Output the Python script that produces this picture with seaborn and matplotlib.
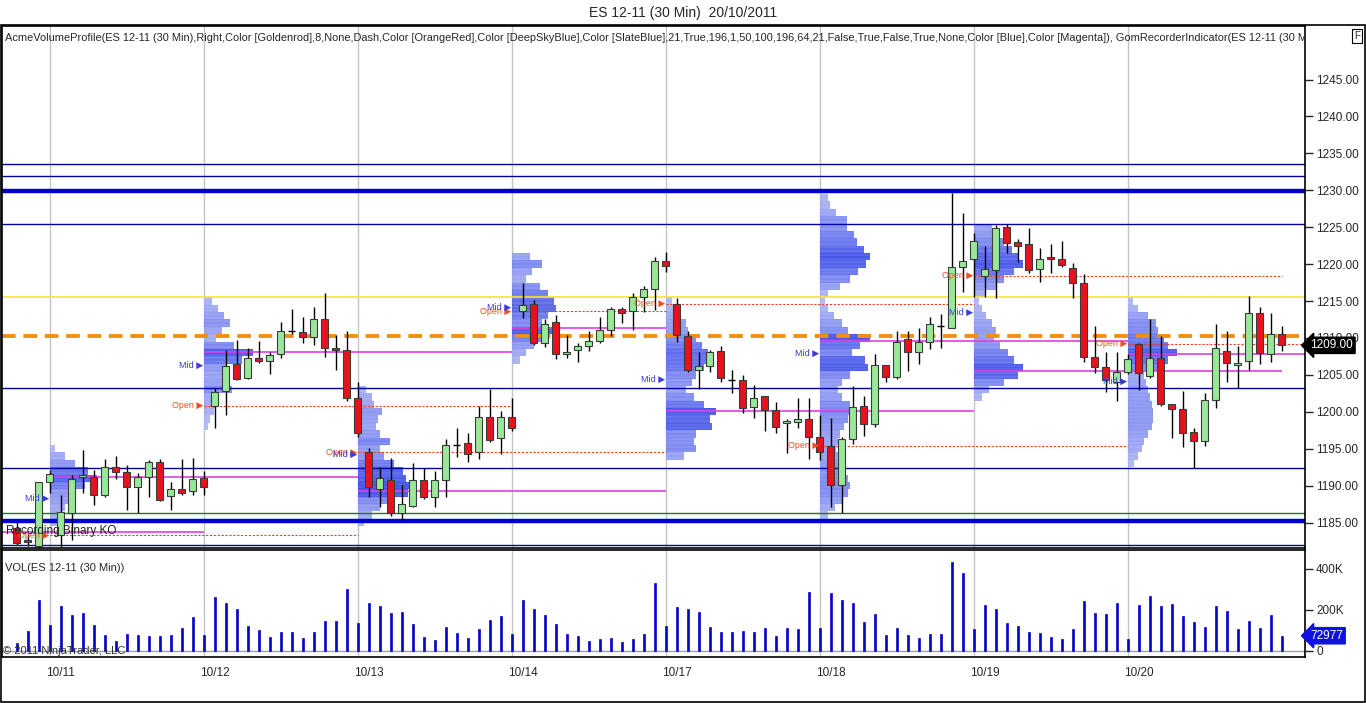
import numpy as np
import pandas as pd
import seaborn as sns
import matplotlib.pyplot as plt
from matplotlib.patches import Rectangle
from matplotlib.colors import LinearSegmentedColormap

sns.set_style("white")
plt.rcParams['font.family'] = ['Liberation Sans', 'DejaVu Sans']

# ---- 30 min bars, last 4 bars of 10/10 then 14 bars per session ----
opens = [1184.3, 1182.6, 1181.8, 1190.5,
         1183.3, 1186.3, 1191.2, 1191.2, 1188.7, 1192.5, 1191.8, 1189.8, 1191.2, 1193.2, 1188.6, 1189.5, 1189.3, 1191.0,
         1200.8, 1202.8, 1206.5, 1204.6, 1207.3, 1206.9, 1207.8, 1210.9, 1210.8, 1210.1, 1212.5, 1208.6, 1208.3, 1201.8,
         1194.5, 1189.5, 1190.8, 1186.3, 1187.2, 1190.8, 1188.5, 1190.8, 1195.5, 1195.8, 1194.5, 1199.3, 1196.5, 1199.3,
         1213.6, 1214.6, 1209.3, 1212.2, 1207.8, 1208.4, 1208.9, 1209.6, 1211.1, 1213.9, 1213.6, 1215.5, 1216.6, 1220.4,
         1214.6, 1210.3, 1205.7, 1206.2, 1208.2, 1204.3, 1204.3, 1200.6, 1202.1, 1200.3, 1198.5, 1198.6, 1199.0, 1196.6,
         1195.4, 1190.1, 1196.3, 1200.8, 1198.3, 1206.3, 1204.7, 1209.8, 1208.1, 1209.4, 1211.6, 1211.3, 1219.6, 1220.7,
         1218.4, 1219.2, 1225.0, 1223.0, 1222.7, 1219.4, 1221.0, 1220.7, 1219.5, 1217.4, 1207.4, 1206.1, 1204.0, 1205.4,
         1209.2, 1204.8, 1207.3, 1201.1, 1200.4, 1197.3, 1196.0, 1201.6, 1208.2, 1206.4, 1206.9, 1213.4, 1207.8, 1210.6]
highs = [1185.1, 1183.5, 1190.5, 1192.1,
         1188.7, 1191.4, 1194.8, 1192.1, 1193.6, 1194.0, 1192.8, 1191.7, 1193.5, 1193.6, 1190.5, 1193.6, 1193.7, 1192.0,
         1203.2, 1208.4, 1209.7, 1208.6, 1209.6, 1208.1, 1212.2, 1213.9, 1212.8, 1214.2, 1216.1, 1210.4, 1210.9, 1204.0,
         1195.1, 1192.5, 1193.7, 1190.1, 1193.1, 1192.4, 1192.0, 1196.3, 1197.8, 1197.1, 1200.8, 1203.1, 1200.1, 1201.9,
         1217.4, 1215.1, 1212.6, 1213.1, 1210.4, 1209.3, 1210.9, 1212.8, 1214.2, 1214.2, 1216.1, 1217.1, 1221.0, 1221.6,
         1215.4, 1210.9, 1208.1, 1208.4, 1208.9, 1205.6, 1205.0, 1203.6, 1202.1, 1201.3, 1199.0, 1201.9, 1201.9, 1199.6,
         1199.2, 1196.6, 1203.5, 1202.1, 1207.8, 1206.3, 1210.9, 1210.9, 1211.3, 1212.8, 1213.3, 1229.6, 1226.9, 1224.2,
         1222.5, 1225.3, 1225.4, 1223.4, 1224.9, 1222.2, 1222.7, 1223.1, 1220.1, 1218.6, 1211.6, 1208.1, 1208.1, 1207.8,
         1209.3, 1212.6, 1210.3, 1201.1, 1202.8, 1197.8, 1202.5, 1211.9, 1210.9, 1208.9, 1215.7, 1214.2, 1213.4, 1211.6]
lows = [1182.0, 1181.8, 1181.5, 1189.0,
        1181.7, 1182.6, 1189.0, 1187.4, 1188.5, 1190.9, 1186.7, 1186.3, 1188.5, 1187.9, 1186.7, 1188.7, 1188.7, 1188.7,
        1197.8, 1199.6, 1204.3, 1204.4, 1206.6, 1205.1, 1207.3, 1210.5, 1209.3, 1209.0, 1207.4, 1205.7, 1201.5, 1196.6,
        1188.5, 1187.1, 1185.9, 1185.3, 1187.1, 1188.2, 1187.1, 1188.5, 1193.9, 1193.2, 1193.6, 1195.9, 1194.3, 1197.4,
        1212.7, 1209.1, 1208.8, 1207.1, 1207.3, 1206.7, 1208.2, 1209.3, 1210.3, 1212.0, 1211.1, 1213.5, 1213.8, 1218.9,
        1209.4, 1205.4, 1203.1, 1205.4, 1204.0, 1202.5, 1199.8, 1199.2, 1197.4, 1197.1, 1194.4, 1197.8, 1193.6, 1193.5,
        1187.1, 1186.3, 1195.6, 1196.7, 1197.9, 1204.0, 1204.4, 1205.5, 1206.5, 1208.5, 1208.6, 1211.3, 1216.2, 1215.5,
        1215.5, 1215.4, 1221.5, 1220.3, 1218.8, 1217.6, 1218.8, 1219.6, 1215.4, 1206.7, 1205.3, 1202.7, 1201.5, 1205.1,
        1203.0, 1204.6, 1200.8, 1196.4, 1195.2, 1192.4, 1195.4, 1200.5, 1204.1, 1203.2, 1205.7, 1206.5, 1206.7, 1208.2]
closes = [1182.2, 1182.4, 1190.5, 1191.6,
          1186.4, 1190.9, 1191.4, 1188.7, 1192.5, 1191.8, 1189.8, 1191.2, 1193.2, 1188.0, 1189.5, 1189.0, 1190.9, 1189.8,
          1202.7, 1206.2, 1204.4, 1207.3, 1206.9, 1207.7, 1210.9, 1210.9, 1210.1, 1212.5, 1208.6, 1208.3, 1201.8, 1197.1,
          1189.8, 1191.0, 1186.3, 1187.5, 1190.8, 1188.5, 1190.8, 1195.5, 1195.5, 1194.3, 1199.3, 1196.2, 1199.3, 1197.8,
          1214.5, 1209.3, 1211.9, 1207.8, 1208.1, 1208.9, 1209.6, 1211.1, 1213.9, 1213.4, 1215.5, 1216.6, 1220.4, 1219.7,
          1210.4, 1205.7, 1206.2, 1208.1, 1204.6, 1204.3, 1200.5, 1201.8, 1200.3, 1197.9, 1198.8, 1199.0, 1196.6, 1194.6,
          1190.1, 1196.3, 1200.6, 1198.3, 1206.3, 1204.7, 1209.4, 1208.1, 1209.4, 1211.9, 1211.6, 1219.6, 1220.4, 1223.1,
          1219.4, 1224.9, 1222.9, 1222.4, 1219.2, 1220.7, 1220.7, 1219.9, 1217.4, 1207.4, 1206.1, 1204.3, 1205.4, 1207.1,
          1205.2, 1207.3, 1201.1, 1200.4, 1197.1, 1196.0, 1201.6, 1208.6, 1206.6, 1206.6, 1213.4, 1208.0, 1210.6, 1209.0]
volume_k = [39, 98, 249, 127,
            220, 176, 185, 127, 78, 49, 83, 78, 73, 73, 78, 112, 166, 78,
            263, 234, 205, 122, 102, 68, 93, 93, 63, 93, 146, 146, 302, 137,
            234, 220, 185, 190, 132, 68, 54, 117, 88, 63, 107, 151, 171, 83,
            249, 205, 176, 132, 83, 73, 49, 59, 63, 44, 59, 83, 332, 122,
            215, 205, 190, 117, 93, 93, 98, 93, 112, 73, 112, 107, 288, 112,
            283, 249, 234, 141, 180, 78, 112, 78, 63, 83, 83, 434, 380, 107,
            224, 205, 137, 122, 93, 88, 68, 59, 107, 244, 185, 180, 234, 59,
            224, 268, 220, 229, 171, 141, 117, 220, 195, 107, 146, 112, 176, 73]
last_volume = 72977

day_labels = ["10/11", "10/12", "10/13", "10/14", "10/17", "10/18", "10/19", "10/20"]

# volume profile per session (top price, then one value per point going down)
profile_tops = [1195, 1215, 1203, 1221, 1215, 1229, 1225, 1215]
prof_1011 = [5, 15, 25, 38, 47, 35, 25, 20, 15, 12, 8]
prof_1012 = [8, 14, 20, 26, 18, 12, 30, 49, 38, 22, 18, 20, 28, 15, 12, 10, 6, 4]
prof_1013 = [8, 14, 16, 24, 20, 18, 22, 32, 22, 26, 36, 45, 48, 52, 50, 30, 22, 14, 6]
prof_1014 = [18, 30, 20, 14, 28, 36, 42, 44, 36, 30, 48, 34, 22, 14, 8]
prof_1017 = [6, 10, 14, 20, 22, 30, 36, 42, 40, 38, 30, 26, 20, 28, 38, 50, 44, 46, 30, 28, 30, 18]
prof_1018 = [8, 10, 16, 27, 27, 34, 37, 44, 50, 46, 38, 30, 20, 8, 5, 8, 14, 22, 28, 50,
             40, 32, 45, 48, 30, 22, 18, 22, 30, 32, 28, 24, 20, 18, 16, 18, 22, 26, 28, 30,
             28, 22, 15, 8]
prof_1019 = [18, 24, 30, 38, 44, 49, 40, 30, 22, 12, 5, 8, 12, 18, 22, 20, 26, 34, 40, 49, 44, 30, 15, 8]
prof_1020 = [5, 10, 20, 28, 30, 36, 40, 49, 40, 30, 16, 18, 20, 22, 24, 25, 25, 24, 20, 16, 14, 10, 6]
profiles = [prof_1011, prof_1012, prof_1013, prof_1014, prof_1017, prof_1018, prof_1019, prof_1020]

poc = [1191.2, 1208.1, 1189.3, 1211.3, 1200.1, 1209.6, 1205.5, 1207.8]
poc_prev = 1183.7
line_end = [31, 45, 59, 59, 87, 101, 115, 118]   # bar where session lines stop

# key levels
levels_thin_blue = [1233.5, 1232.0, 1225.4, 1203.2, 1192.4, 1181.9]
levels_thick_blue = [1229.9, 1185.2]
level_yellow = 1215.6
level_orange = 1210.2
level_green = 1186.3

df = pd.DataFrame({"open": opens, "high": highs, "low": lows, "close": closes,
                   "vol": np.array(volume_k) * 1000})
df["bar"] = np.arange(len(df))
first = [4 + 14 * k for k in range(len(day_labels))]
starts = [f - 1 for f in first]

W, H = 1366, 703
fig = plt.figure(figsize=(W / 100, H / 100), dpi=100)
ax = fig.add_axes([2 / W, 1 - 548 / H, 1303 / W, 522 / H])
axv = fig.add_axes([2 / W, 1 - 657 / H, 1303 / W, 107 / H])

x_lo, x_hi = (2 - 16.7) / 11, (1305 - 16.7) / 11
for a in (ax, axv):
    a.set_xlim(x_lo, x_hi)
    for s in starts:
        a.axvline(s, color="#c4c4c4", lw=1, zorder=0)
    for sp in a.spines.values():
        sp.set_color("black")
        sp.set_linewidth(1.2)

ax.set_ylim(1181.55, 1252.25)

# levels
for lv in levels_thin_blue:
    ax.axhline(lv, color="#0000a0", lw=1, zorder=2)
for lv in levels_thick_blue:
    ax.axhline(lv, color="#0000cc", lw=3.2, zorder=2)
ax.axhline(level_yellow, color="#f0e830", lw=1.2, zorder=2)
ax.axhline(level_green, color="#1a7a1a", lw=1, zorder=2)
ax.axhline(level_orange, color="#f09010", lw=2.8, ls=(0, (3.5, 2)), zorder=2)

# volume profiles, stronger blue where more volume traded
prof_cmap = LinearSegmentedColormap.from_list("prof", ["#b4bbf5", "#7f8bf0", "#3446e8"])
for k, prof in enumerate(profiles):
    lv = profile_tops[k] - np.arange(len(prof))
    v = np.array(prof, dtype=float)
    cols = prof_cmap(v / 52.0)
    ax.barh(lv, v / 11.0, left=starts[k], height=1.0, color=cols, lw=0, alpha=0.92, zorder=1)
    for y in lv:
        ax.hlines([y - 0.25, y + 0.25], starts[k], starts[k] + 5, color="white", lw=0.3,
                  alpha=0.35, zorder=1.1)

# session lines: POC, open, labels
ax.hlines(poc_prev, x_lo, starts[1], color="#e040e0", lw=1.2, zorder=2)
for k in range(len(day_labels)):
    day = df.iloc[first[k]:first[k] + 14]
    op = day["open"].iloc[0]
    mid = (day["high"].max() + day["low"].min()) / 2
    ax.hlines(poc[k], starts[k], line_end[k], color="#e040e0", lw=1.2, zorder=2)
    ax.hlines(op, starts[k], line_end[k], color="#f04020", lw=0.8, ls=(0, (2, 1.5)), zorder=2)
    ax.text(starts[k] - 0.05, op, "Open \u25b6", ha="right", va="center", fontsize=6.5,
            color="#f05020", zorder=6)
    ax.text(starts[k] - 0.05, mid, "Mid \u25b6", ha="right", va="center", fontsize=6.5,
            color="#3a3ae0", zorder=6)

# candles
up = df[df["close"] > df["open"]]
dn = df[df["close"] < df["open"]]
dj = df[df["close"] == df["open"]]
ax.vlines(df["bar"], df["low"], df["high"], color="black", lw=1, zorder=3)
ax.bar(up["bar"], up["close"] - up["open"], bottom=up["open"], width=0.68,
       color="#98e898", edgecolor="#3c3c3c", lw=0.8, zorder=4)
ax.bar(dn["bar"], dn["open"] - dn["close"], bottom=dn["close"], width=0.68,
       color="#e8121c", edgecolor="#3c3c3c", lw=0.8, zorder=4)
ax.hlines(dj["open"], dj["bar"] - 0.34, dj["bar"] + 0.34, color="black", lw=1, zorder=4)

ax.set_xticks([])
ax.yaxis.tick_right()
ax.set_yticks(np.arange(1185, 1250, 5))
ax.set_yticklabels([f"{v:.2f}" for v in np.arange(1185, 1250, 5)])
ax.tick_params(axis="y", direction="out", length=6, width=1, labelsize=8.5, pad=2)

ax.text(1.004, closes[-1], f"{closes[-1]:.2f}", transform=ax.get_yaxis_transform(),
        ha="left", va="center", fontsize=8.5, color="white", clip_on=False, zorder=7,
        bbox=dict(boxstyle="larrow,pad=0.18", fc="black", ec="black"))

indicator = ("AcmeVolumeProfile(ES 12-11 (30 Min),Right,Color [Goldenrod],8,None,Dash,Color [OrangeRed],"
             "Color [DeepSkyBlue],Color [SlateBlue],21,True,196,1,50,100,196,64,21,False,True,False,True,"
             "None,Color [Blue],Color [Magenta]), GomRecorderIndicator(ES 12-11 (30 Min))")
ax.text(0.002, 0.977, indicator, transform=ax.transAxes, ha="left", va="center",
        fontsize=7.95, clip_on=True, zorder=8)
ax.text(0.003, 0.033, "Recording Binary KO", transform=ax.transAxes, ha="left", va="center",
        fontsize=8.5, color="#202020", zorder=8)

# volume panel
sns.barplot(data=df, x="bar", y="vol", native_scale=True, color="#0606c8", saturation=1,
            width=0.2, errorbar=None, ax=axv, zorder=3, edgecolor="#0606c8", linewidth=0.5)
axv.set_xlim(x_lo, x_hi)
axv.set_ylim(-30700, 491000)
axv.axhline(0, color="#a0a0a0", lw=1, zorder=2)
axv.set_xlabel("")
axv.set_ylabel("")
axv.yaxis.tick_right()
axv.set_yticks([0, 200000, 400000])
axv.set_yticklabels(["0", "200K", "400K"])
axv.tick_params(axis="y", direction="out", length=6, width=1, labelsize=8.5, pad=2)
axv.set_xticks(first)
axv.set_xticklabels(day_labels)
axv.tick_params(axis="x", direction="out", length=4, width=1, labelsize=8.5, pad=3)
axv.text(0.002, 0.83, "VOL(ES 12-11 (30 Min))", transform=axv.transAxes, ha="left",
         va="center", fontsize=8)
axv.text(0.001, 0.06, "\u00a9 2011 NinjaTrader, LLC", transform=axv.transAxes, ha="left",
         va="center", fontsize=8, color="#303030")
axv.text(1.004, last_volume, f"{last_volume:d}", transform=axv.get_yaxis_transform(),
         ha="left", va="center", fontsize=8.5, color="white", clip_on=False, zorder=7,
         bbox=dict(boxstyle="larrow,pad=0.18", fc="#1010e0", ec="#1010e0"))

fig.text(0.5, 1 - 13 / H, "ES 12-11 (30 Min)  20/10/2011", ha="center", va="center", fontsize=10)
fig.text(1357 / W, 1 - 36 / H, "F", ha="center", va="center", fontsize=7,
         bbox=dict(boxstyle="square,pad=0.2", fc="white", ec="black", lw=0.8))
fig.add_artist(Rectangle((0.5 / W, 1 - 702 / H), 1364.5 / W, 677 / H, transform=fig.transFigure,
                         fill=False, ec="black", lw=1.2))

fig.savefig("out.png", dpi=100, facecolor="white")
